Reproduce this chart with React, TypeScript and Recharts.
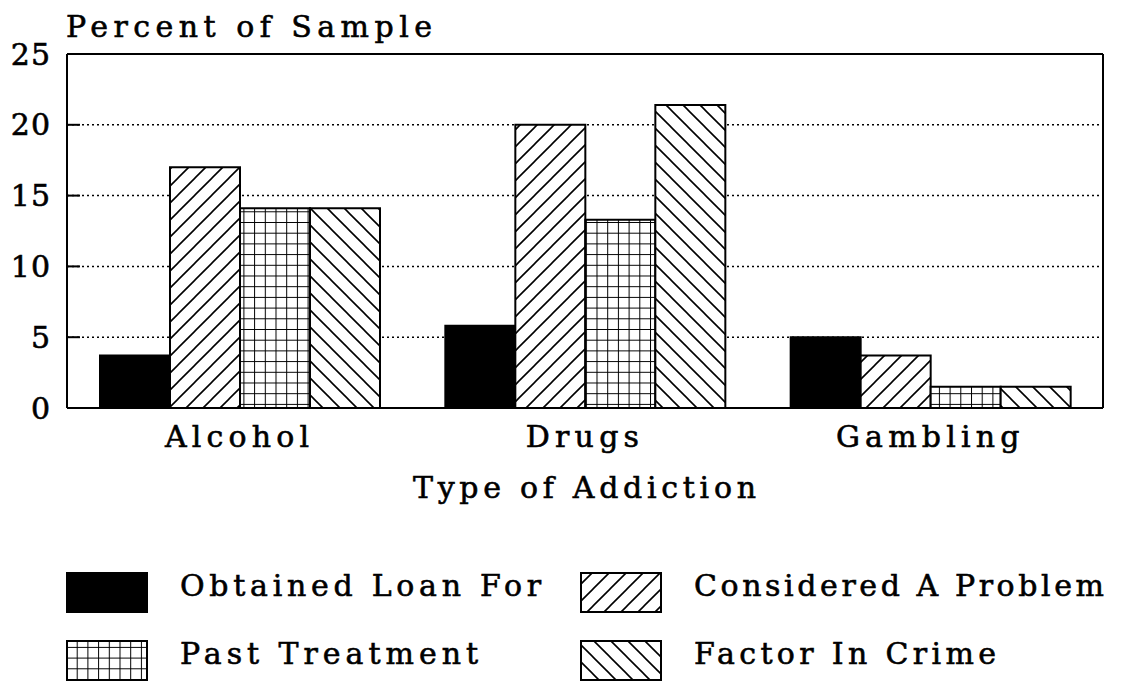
import React from 'react';
import { BarChart, Bar, XAxis, YAxis, CartesianGrid, Legend, Label, ReferenceLine } from 'recharts';

const categories = ['Alcohol', 'Drugs', 'Gambling'];
const obtainedLoan = [3.7, 5.8, 5.0];
const consideredProblem = [17.0, 20.0, 3.7];
const pastTreatment = [14.1, 13.3, 1.5];
const factorInCrime = [14.1, 21.4, 1.5];
const yTicks = [0, 5, 10, 15, 20, 25];
const seriesNames = ['Obtained Loan For', 'Considered A Problem', 'Past Treatment', 'Factor In Crime'];
const legendTextWidths = [361, 410, 298, 302];

const data = categories.map((name, i) => ({
  name,
  loan: obtainedLoan[i],
  problem: consideredProblem[i],
  treatment: pastTreatment[i],
  crime: factorInCrime[i],
}));

const FONT = '"DejaVu Serif", serif';
const FS = 30;
const LS = 5.2;
const TSTROKE = 0.6;

const Patterns = ({ suffix = '' }: { suffix?: string }) => (
  <defs>
    <pattern id={'diagUp' + suffix} patternUnits="userSpaceOnUse" width="17" height="17">
      <rect width="17" height="17" fill="white" />
      <path d="M-4.25,4.25 L4.25,-4.25 M0,17 L17,0 M12.75,21.25 L21.25,12.75" stroke="black" strokeWidth="1.6" />
    </pattern>
    <pattern id={'diagDown' + suffix} patternUnits="userSpaceOnUse" width="17" height="17">
      <rect width="17" height="17" fill="white" />
      <path d="M-4.25,12.75 L4.25,21.25 M0,0 L17,17 M12.75,-4.25 L21.25,4.25" stroke="black" strokeWidth="1.6" />
    </pattern>
    <pattern id={'grid' + suffix} patternUnits="userSpaceOnUse" width="10.7" height="10.7">
      <rect width="10.7" height="10.7" fill="white" />
      <path d="M0,0 H10.7 M0,0 V10.7" stroke="black" strokeWidth="2" />
    </pattern>
  </defs>
);

const fills = ['black', 'url(#diagUpL)', 'url(#gridL)', 'url(#diagDownL)'];

const baseText = {
  fontFamily: FONT,
  fontSize: FS,
  fill: 'black',
  stroke: 'black',
  strokeWidth: TSTROKE,
};

const LegendContent = () => {
  const cols = [0, 514];
  const rows = [0, 68];
  const items = [0, 1, 2, 3].map((k) => ({
    name: seriesNames[k],
    width: legendTextWidths[k],
    fill: fills[k],
    x: cols[k % 2],
    y: rows[Math.floor(k / 2)],
  }));
  return (
    <svg width={1060} height={112} style={{ display: 'block', overflow: 'visible' }}>
      <Patterns suffix="L" />
      {items.map((it) => (
        <g key={it.name}>
          <rect x={it.x + 1} y={it.y + 1} width={80} height={39} fill={it.fill} stroke="black" strokeWidth={2} />
          <text x={it.x + 114} y={it.y + 24} textLength={it.width} lengthAdjust="spacing" {...baseText}>
            {it.name}
          </text>
        </g>
      ))}
    </svg>
  );
};

const YTitle = (props: any) => {
  const vb = props.viewBox || {};
  return (
    <text
      x={(vb.x || 0) + (vb.width || 0) - 1}
      y={(vb.y || 0) - 17}
      textLength={366}
      lengthAdjust="spacing"
      {...baseText}
    >
      Percent of Sample
    </text>
  );
};

const XTitle = (props: any) => {
  const vb = props.viewBox || {};
  return (
    <text
      x={(vb.x || 0) + (vb.width || 0) / 2 - 172}
      y={(vb.y || 0) + 90}
      textLength={343}
      lengthAdjust="spacing"
      {...baseText}
    >
      Type of Addiction
    </text>
  );
};

export default function App() {
  return (
    <div style={{ width: 1127, height: 682, background: 'white' }}>
      <BarChart
        width={1127}
        height={682}
        data={data}
        margin={{ top: 46, right: 32, left: 0, bottom: 200 }}
        barCategoryGap={33}
        barGap={0}
      >
        <Patterns />
        <CartesianGrid horizontal vertical={false} stroke="black" strokeWidth={1.5} strokeDasharray="2 3" />
        <XAxis
          dataKey="name"
          height={82}
          axisLine={{ stroke: 'black', strokeWidth: 2 }}
          tickLine={false}
          tickSize={0}
          tickMargin={18}
          tick={{ ...baseText, letterSpacing: LS }}
        >
          <Label content={<XTitle />} />
        </XAxis>
        <YAxis
          width={59}
          domain={[0, 25]}
          ticks={yTicks}
          interval={0}
          axisLine={{ stroke: 'black', strokeWidth: 2 }}
          tickLine={{ stroke: 'black', strokeWidth: 2 }}
          tickSize={-13}
          tickMargin={29}
          tick={{ ...baseText, letterSpacing: 1 }}
        >
          <Label content={<YTitle />} />
        </YAxis>
        <ReferenceLine y={25} stroke="black" strokeWidth={2} />
        <ReferenceLine x="Gambling" position="end" stroke="black" strokeWidth={2} />
        <Legend
          layout="horizontal"
          verticalAlign="middle"
          align="center"
          wrapperStyle={{ top: 564, left: 58, width: 1060, height: 112, bottom: 'auto', right: 'auto' }}
          content={<LegendContent />}
        />
        <Bar dataKey="loan" name={seriesNames[0]} fill="black" stroke="black" strokeWidth={2} isAnimationActive={false} />
        <Bar dataKey="problem" name={seriesNames[1]} fill="url(#diagUp)" stroke="black" strokeWidth={2} isAnimationActive={false} />
        <Bar dataKey="treatment" name={seriesNames[2]} fill="url(#grid)" stroke="black" strokeWidth={2} isAnimationActive={false} />
        <Bar dataKey="crime" name={seriesNames[3]} fill="url(#diagDown)" stroke="black" strokeWidth={2} isAnimationActive={false} />
      </BarChart>
    </div>
  );
}
